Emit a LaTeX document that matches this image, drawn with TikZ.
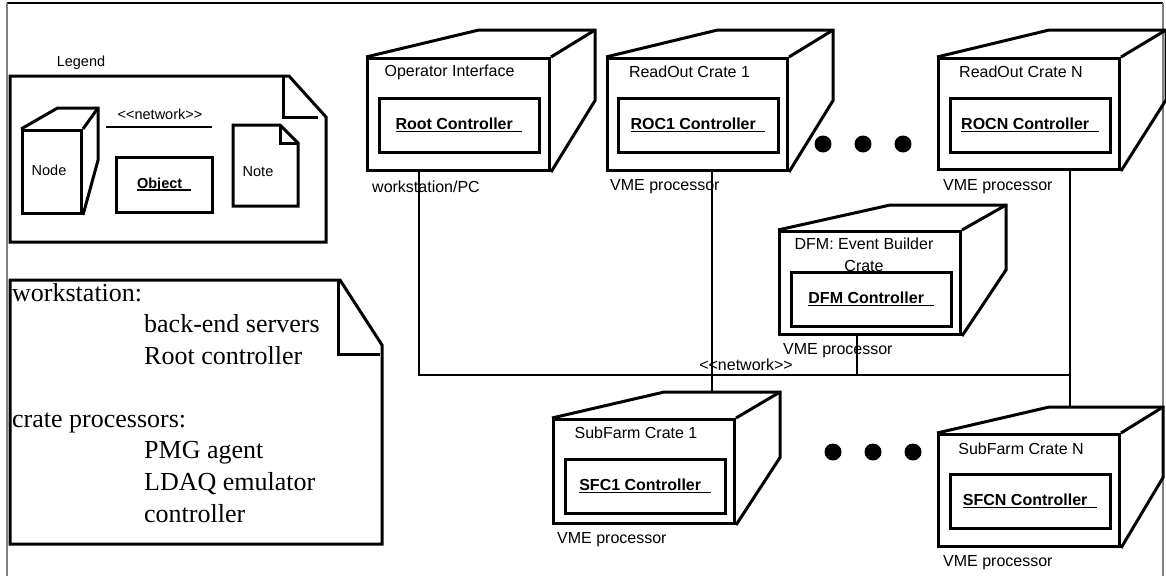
\documentclass[tikz,border=0pt]{standalone}
\usepackage{fontspec}
\setmainfont{Liberation Sans}
\newfontfamily\notefont{Liberation Serif}
\usetikzlibrary{calc}
\usetikzlibrary{positioning}

% crate: front face as a node, slanted top and side drawn from its anchors
% #1 name, #2 #3 top left corner, #4 width, #5 height, #6 #7 depth
\newcommand{\crate}[7]{%
  \node[front, minimum width=#4pt, minimum height=#5pt, anchor=north west] (#1) at (#2,#3) {};
  \draw[boxline] (#1.north west) -- ++(0.62*#4,-#7) coordinate (#1-bl)
    -- ($(#1.north east)+(#6,-#7)$) coordinate (#1-br)
    -- ++(0,0.63*#5) -- (#1.south east);
  \draw[boxline] (#1.north east) -- (#1-br);
}
% bold object name, underlined a bit past its end
\newcommand{\objname}[1]{\setbox0\hbox{#1\hspace{0.6em}}\rlap{\rule[-2.5pt]{\wd0}{1.4pt}}\box0}
\newcommand{\stereo}[1]{<\kern0pt<#1>\kern0pt>}

\begin{document}
\begin{tikzpicture}[x=1pt, y=-1pt,
  boxline/.style={line width=3pt},
  front/.style={draw, line width=3pt, inner sep=0pt},
  objbox/.style={draw, line width=3pt, minimum width=160pt, minimum height=54pt, inner sep=0pt, font=\fontsize{16}{19}\selectfont\bfseries},
  lbl/.style={inner sep=0pt, font=\fontsize{16}{19}\selectfont},
  small/.style={inner sep=0pt, font=\fontsize{14.5}{17}\selectfont},
  link/.style={line width=2.6pt},
  dot/.style={circle, fill, inner sep=0pt, minimum size=17pt}]
  \useasboundingbox (0,0) rectangle (1166,576);

  % page frame
  \draw[line width=1.3pt] (7,3) -- (1163,3);
  \draw[gray, line width=1.8pt] (7,3) -- (7,576);
  \draw[gray, line width=1.8pt] (1163,3) -- (1163,576);

  % legend
  \node[small] (legend) at (81,63) {Legend};
  \draw[boxline] (10,76) -- (289,76) -- (326,117) -- (326,242) -- (10,242) -- cycle;
  \draw[boxline] (283,76) -- (283,117) -- (318,117);
  \crate{lnode}{21}{129}{59}{83}{15}{21}
  \node[small] (lnodetxt) at ($(lnode)+(-3,-2)$) {Node};
  \coordinate (lnet-w) at (106,127);
  \coordinate (lnet-e) at (212,127);
  \draw[link] (lnet-w) -- (lnet-e);
  \node[small] (lnet) at (160,114) {\stereo{network}};
  \node[draw, line width=3pt, minimum width=96pt, minimum height=55pt, inner sep=0pt,
    font=\fontsize{14.5}{17}\selectfont\bfseries] (lobj) at (164,184.5) {\objname{Object}};
  \draw[boxline] (233,125) -- (280,125) -- (298,143) -- (298,206) -- (233,206) -- cycle;
  \draw[boxline] (280,125) -- (280,143) -- (298,143);
  \node[small] (lnote) at (258,172) {Note};

  % note on the processes
  \draw[boxline] (10,280) -- (340,280) -- (382,345) -- (382,544) -- (10,544) -- cycle;
  \draw[boxline] (338,280) -- (338,354) -- (380,354);
  \begin{scope}[every node/.style={anchor=base west, inner sep=0pt, font=\notefont\fontsize{26}{31}\selectfont}]
    \node (ws) at (12,301) {workstation:};
    \node (ws1) at (144,332) {back-end servers};
    \node (ws2) at (144,364) {Root controller};
    \node (cp) at (12,427) {crate processors:};
    \node (cp1) at (144,458) {PMG agent};
    \node (cp2) at (144,490) {LDAQ emulator};
    \node (cp3) at (144,522) {controller};
  \end{scope}

  % crates
  \crate{opi}{366}{57}{182}{112}{44}{27}
  \crate{roc1}{606}{57}{180}{112}{44}{27}
  \crate{rocn}{937}{57}{181}{111}{45}{27}
  \crate{dfm}{778}{230}{181}{103}{44}{25}
  \crate{sf1}{552}{418}{181}{104}{44}{26}
  \crate{sfn}{937}{433}{181}{112}{42}{26}

  \node[lbl] (opititle) at ($(opi.north)+(-9,15)$) {Operator Interface};
  \node[lbl] (roc1title) at ($(roc1.north)+(-8,15)$) {ReadOut Crate 1};
  \node[lbl] (rocntitle) at ($(rocn.north)+(-8,15)$) {ReadOut Crate N};
  \node[lbl, align=center, font=\fontsize{16}{22}\selectfont] (dfmtitle) at ($(dfm.north)+(-6,25)$) {DFM: Event Builder\\Crate};
  \node[lbl] (sf1title) at ($(sf1.north)+(-8,15)$) {SubFarm Crate 1};
  \node[lbl] (sfntitle) at ($(sfn.north)+(-8,16)$) {SubFarm Crate N};

  \node[objbox] (rootc) at ($(opi.north west)+(93,68)$) {\objname{Root Controller}};
  \node[objbox] (roc1c) at ($(roc1.north west)+(92,68)$) {\objname{ROC1 Controller}};
  \node[objbox] (rocnc) at ($(rocn.north west)+(93,68)$) {\objname{ROCN Controller}};
  \node[objbox] (dfmc) at ($(dfm.north west)+(93,69)$) {\objname{DFM Controller}};
  \node[objbox] (sf1c) at ($(sf1.north west)+(93,68)$) {\objname{SFC1 Controller}};
  \node[objbox] (sfnc) at ($(sfn.north west)+(93,68)$) {\objname{SFCN Controller}};

  \node[lbl, anchor=west] (opihw) at ($(opi.south west)+(6,15)$) {workstation/PC};
  \node[lbl, anchor=west] (roc1hw) at ($(roc1.south west)+(4,15)$) {VME processor};
  \node[lbl, anchor=west] (rocnhw) at ($(rocn.south west)+(6,16)$) {VME processor};
  \node[lbl, anchor=west] (dfmhw) at ($(dfm.south west)+(5,15)$) {VME processor};
  \node[lbl, anchor=west] (sf1hw) at ($(sf1.south west)+(5,15)$) {VME processor};
  \node[lbl, anchor=west] (sfnhw) at ($(sfn.south west)+(6,15)$) {VME processor};

  % more crates
  \foreach \x in {823,863,903} \node[dot] (rdot\x) at (\x,144) {};
  \foreach \x in {833,873,913} \node[dot] (sdot\x) at (\x,452) {};

  % network
  \coordinate (net-w) at (419,375);
  \coordinate (net-e) at (1070,375);
  \coordinate (tap1) at (712,375);
  \coordinate (tapdfm) at (857,375);
  \draw[link] (opi.south -| net-w) -- (net-w) -- (net-e);
  \draw[link] (rocn.south -| net-e) -- (net-e |- sfn-bl);
  \draw[link] (roc1.south -| tap1) -- (tap1 |- sf1-bl);
  \draw[link] (dfm.south -| tapdfm) -- (tapdfm);
  \node[lbl] (netlbl) at (746,365) {\stereo{network}};
\end{tikzpicture}
\end{document}
